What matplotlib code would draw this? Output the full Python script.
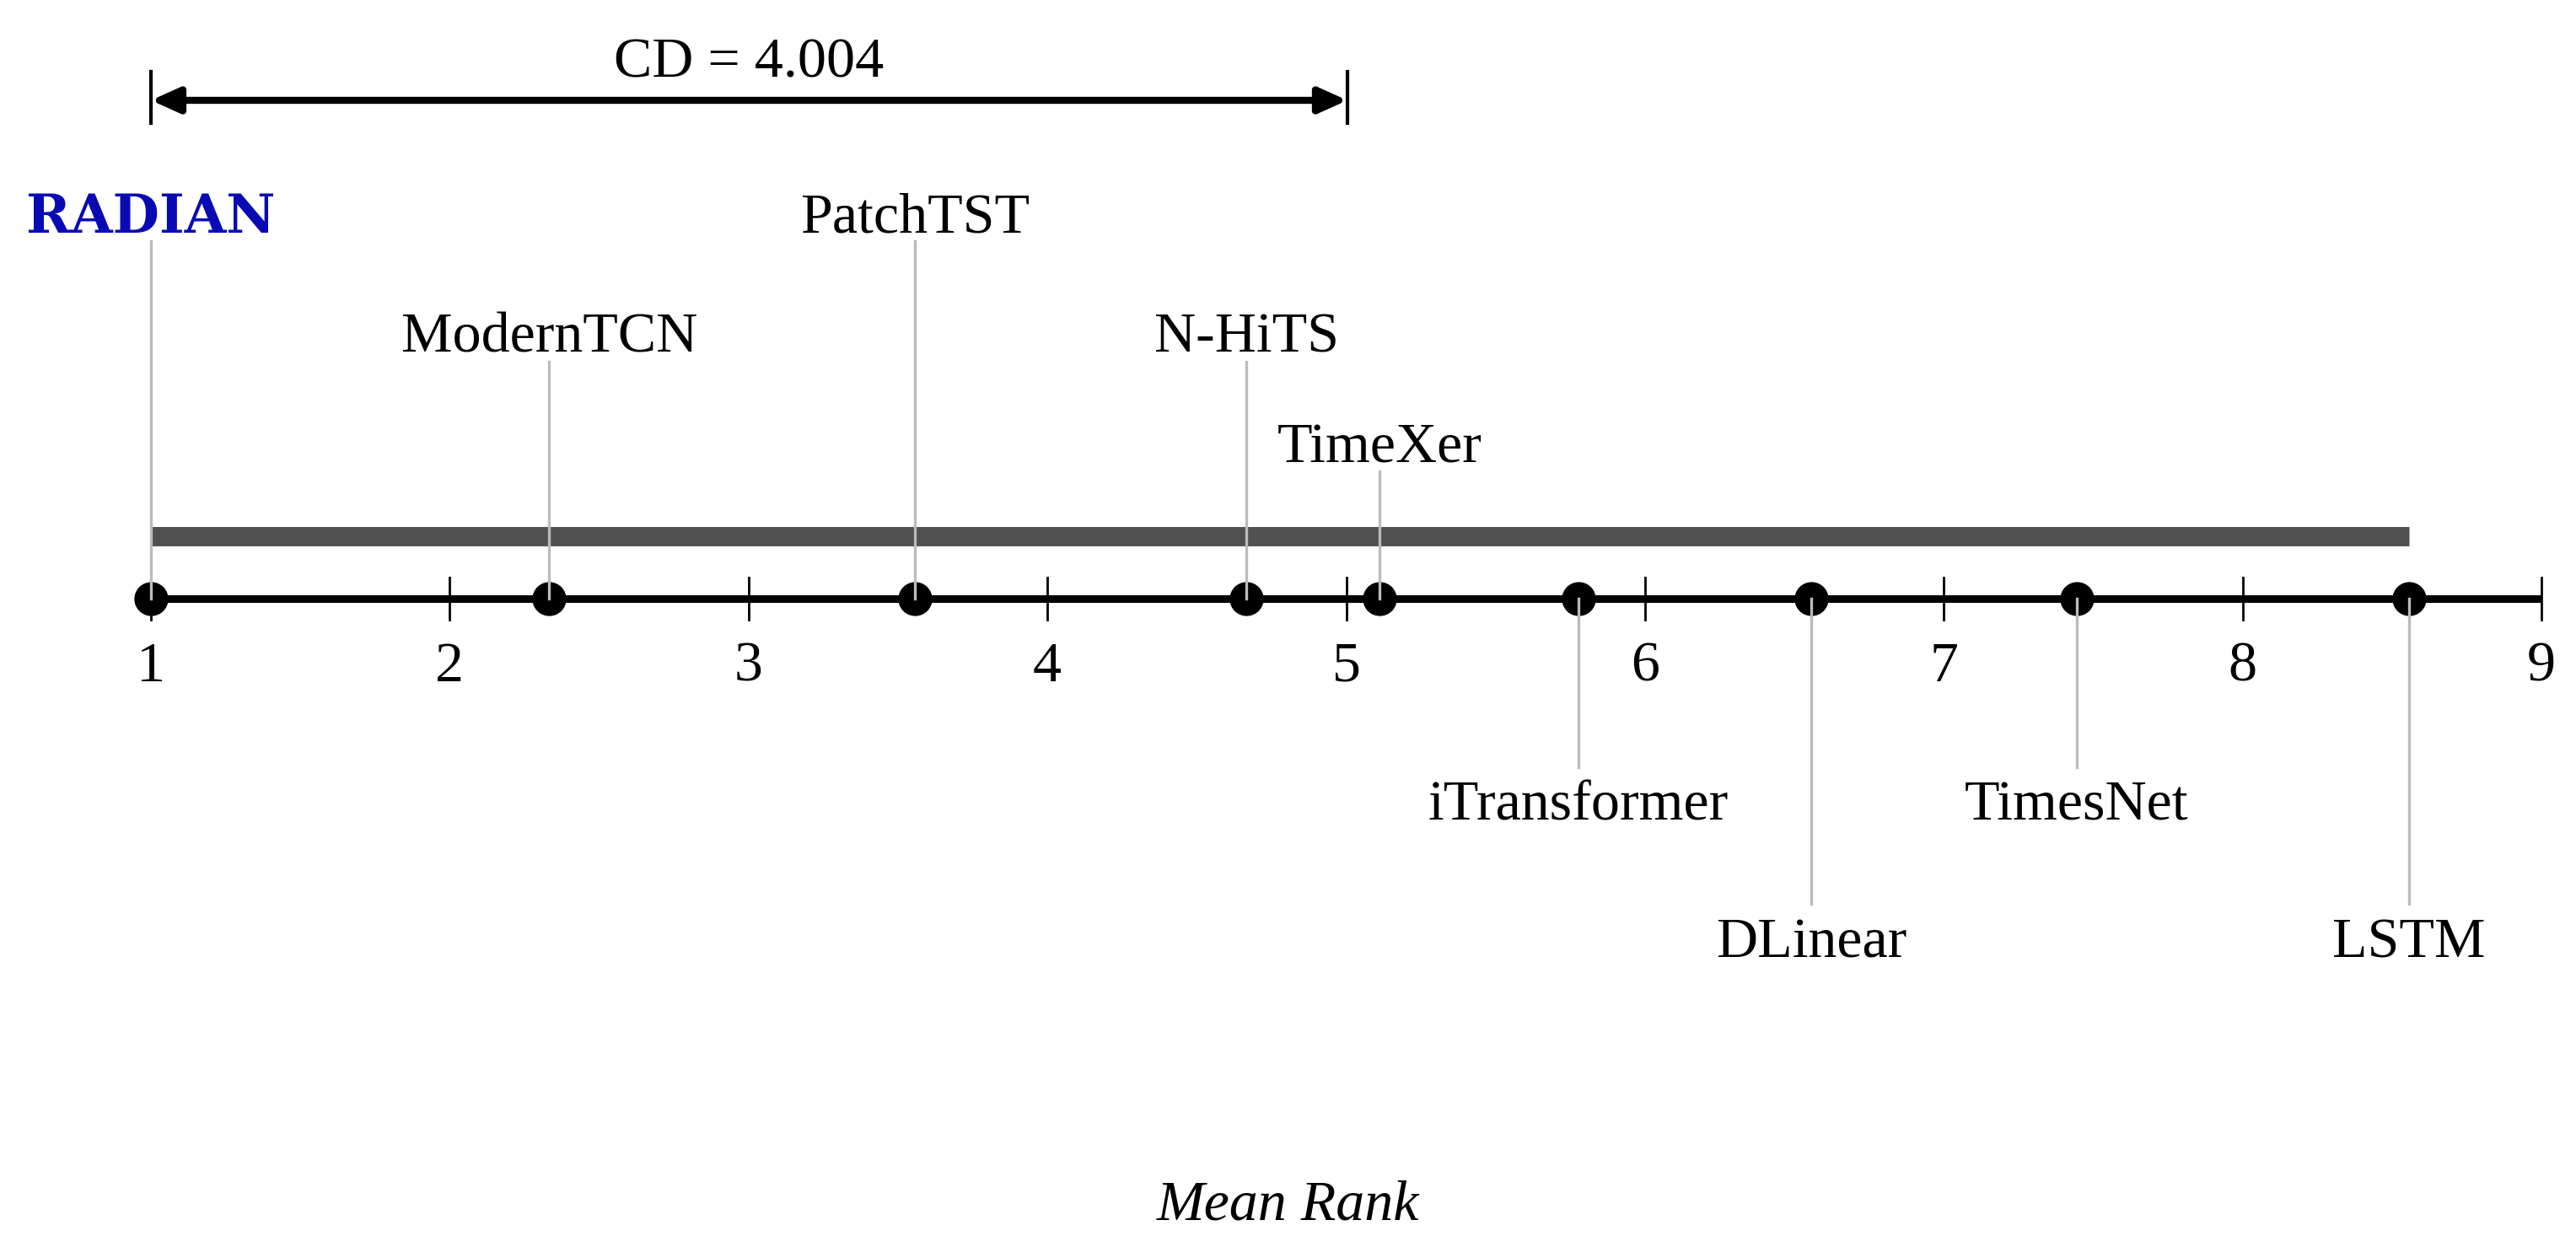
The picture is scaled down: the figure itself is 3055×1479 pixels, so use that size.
import numpy as np
import matplotlib.pyplot as plt

# mean ranks (critical difference diagram)
methods = ['RADIAN', 'ModernTCN', 'PatchTST', 'N-HiTS', 'TimeXer',
           'iTransformer', 'DLinear', 'TimesNet', 'LSTM']
ranks = [1.000, 2.333, 3.556, 4.667, 5.111, 5.778, 6.556, 7.444, 8.556]
cd = 4.004
clique = [1.000, 8.556]
ticks = [1, 2, 3, 4, 5, 6, 7, 8, 9]

# layout (pixel rows, y axis runs top->bottom)
lab_y = [259, 401, 259, 401, 532, 956, 1119, 956, 1119]
stem_end = [286, 429, 286, 429, 559, 910, 1072, 910, 1072]
axis_y = 710
bar_y = 636
cd_y = 119

plt.rcParams['font.family'] = ['Liberation Serif', 'DejaVu Serif']
fs = 49

fig = plt.figure(figsize=(30.55, 14.79), dpi=100)
ax = fig.add_axes([0, 0, 1, 1])
ax.axis('off')
ppu = (3014 - 179) / 8.0
ax.set_xlim(1 - 179 / ppu, 9 + (3055 - 3014) / ppu)
ax.set_ylim(1479, 0)

# axis line + ticks
ax.plot([ticks[0], ticks[-1]], [axis_y, axis_y], color='black', lw=6.5, solid_capstyle='butt', zorder=2)
for t in ticks:
    ax.plot([t, t], [axis_y - 25, axis_y + 25], color='black', lw=2, zorder=2)
    ax.text(t, 791, str(t), fontsize=fs, ha='center', va='center')

# clique bar
ax.plot(clique, [bar_y, bar_y], color='#505050', lw=16.5, solid_capstyle='butt', zorder=1)

# dots
ax.scatter(ranks, [axis_y] * len(ranks), s=28 ** 2, color='black', zorder=3)

# stems and labels
for m, r, ly, se in zip(methods, ranks, lab_y, stem_end):
    ax.plot([r, r], [se, axis_y], color='#bbbbbb', lw=2.4, zorder=4)
    if m == 'RADIAN':
        ax.text(r, ly, m, fontsize=46, ha='center', va='center', color='#0a0ab4',
                fontweight='bold', family='DejaVu Serif')
    else:
        ax.text(r, ly, m, fontsize=fs, ha='center', va='center')

# CD marker
ax.annotate('', xy=(1 + cd, cd_y), xytext=(1, cd_y),
            arrowprops=dict(arrowstyle='<|-|>,head_length=2.0,head_width=0.9', color='black', lw=6,
                            shrinkA=0, shrinkB=0))
ax.plot([1, 1], [cd_y - 34, cd_y + 27], color='black', lw=3)
ax.plot([1 + cd, 1 + cd], [cd_y - 34, cd_y + 27], color='black', lw=3)
ax.text(1 + cd / 2, 75, 'CD = %.3f' % cd, fontsize=fs, ha='center', va='center')

ax.text(0.5, 1 - 1430 / 1479, 'Mean Rank', transform=ax.transAxes, fontsize=fs, style='italic',
        ha='center', va='center')

plt.savefig('out.png', dpi=100)
plt.close()
